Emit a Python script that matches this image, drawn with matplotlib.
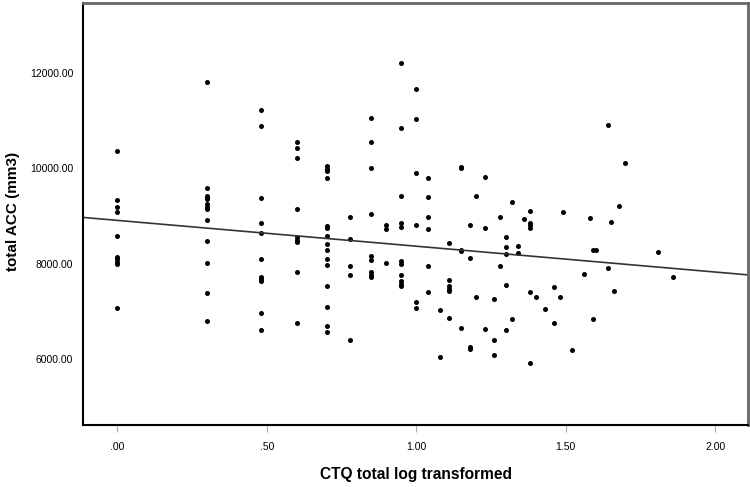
import matplotlib
matplotlib.use("Agg")
import matplotlib.pyplot as plt
import numpy as np

# CTQ total (log10) and total ACC volume, column by column
ctq = [0.00] * 10 + [0.30] * 13 + [0.48] * 11 + [0.60] * 9 + [0.70] * 15 + [0.78] * 5 \
    + [0.85] * 9 + [0.90] * 3 + [0.95] * 11 + [1.00] * 6 + [1.04] * 6 + [1.08] * 2 \
    + [1.11] * 6 + [1.15] * 5 + [1.18] * 4 + [1.20] * 2 + [1.23] * 3 + [1.26] * 3 \
    + [1.28] * 2 + [1.30] * 5 + [1.32] * 2 + [1.34] * 2 + [1.36] + [1.38] * 6 \
    + [1.40, 1.43, 1.46, 1.46, 1.48, 1.49, 1.52, 1.56, 1.58, 1.59, 1.59, 1.60,
       1.64, 1.64, 1.65, 1.66, 1.68, 1.70, 1.81, 1.86]

acc = [10365, 9340, 9200, 9090, 8590, 8150, 8100, 8040, 7990, 7080,
       11820, 9600, 9430, 9390, 9350, 9250, 9200, 9150, 8910, 8480, 8020, 7390, 6800,
       11220, 10900, 9390, 8860, 8650, 8110, 7720, 7680, 7630, 6960, 6610,
       10560, 10430, 10220, 9150, 8560, 8500, 8450, 7830, 6750,
       10060, 9990, 9940, 9800, 8790, 8750, 8590, 8410, 8280, 8100, 7970, 7540, 7100, 6700, 6570,
       8980, 8530, 7960, 7770, 6410,
       11060, 10560, 10020, 9040, 8160, 8080, 7820, 7770, 7730,
       8810, 8740, 8020,
       12220, 10840, 9420, 8860, 8770, 8050, 8000, 7770, 7650, 7580, 7530,
       11670, 11040, 9910, 8810, 7190, 7070,
       9810, 9400, 8990, 8740, 7950, 7400,
       7040, 6050,
       8440, 7670, 7540, 7480, 7420, 6870,
       10040, 10020, 8290, 8260, 6650,
       8820, 8130, 6250, 6220,
       9420, 7300,
       9830, 8750, 6640,
       7270, 6400, 6080,
       8980, 7960,
       8560, 8350, 8200, 7550, 6610,
       9300, 6840,
       8370, 8230,
       8950,
       9100, 8860, 8810, 8750, 7400, 5930,
       7310, 7050, 7510, 6760, 7310, 9090, 6200, 7790, 8970, 8280, 6840, 8280,
       10910, 7920, 8880, 7430, 9210, 10120, 8240, 7720]

xticks = [0.0, 0.5, 1.0, 1.5, 2.0]
xticklabels = [".00", ".50", "1.00", "1.50", "2.00"]
yticks = [6000, 8000, 10000, 12000]
yticklabels = ["6000.00", "8000.00", "10000.00", "12000.00"]

font = ["Liberation Sans", "DejaVu Sans"]

fig = plt.figure(figsize=(7.5, 4.87), dpi=100)
ax = fig.add_axes([83 / 750, 62 / 487, 665 / 750, 422 / 487])

x = np.array(ctq)
y = np.array(acc)
ax.plot(x, y, "o", color="black", ms=3.6, mew=0)

# linear fit line across the whole axis
slope, intercept = np.polyfit(x, y, 1)
xl = np.array([-0.115, 2.11])
ax.plot(xl, intercept + slope * xl, color="#333333", lw=1.2)

ax.set_xlim(-0.115, 2.11)
ax.set_ylim(4620, 13470)

ax.set_xticks(xticks)
ax.set_xticklabels(xticklabels, family=font, fontsize=7.5)
ax.set_yticks(yticks)
ax.set_yticklabels(yticklabels, family=font, fontsize=7.5)
ax.tick_params(axis="x", length=5, color="#aaaaaa", pad=7)
ax.tick_params(axis="y", length=0, pad=7)

ax.set_xlabel("CTQ total log transformed", family=font, fontsize=11.2,
              fontweight="bold", labelpad=11)
ax.set_ylabel("total ACC (mm3)", family=font, fontsize=11, fontweight="bold")
ax.yaxis.set_label_coords(-0.094, 0.507)

for side in ["left", "bottom"]:
    ax.spines[side].set_color("black")
    ax.spines[side].set_linewidth(1.5)
for side in ["top", "right"]:
    ax.spines[side].set_color("#666666")
    ax.spines[side].set_linewidth(2)

fig.savefig("out.png", dpi=100)
